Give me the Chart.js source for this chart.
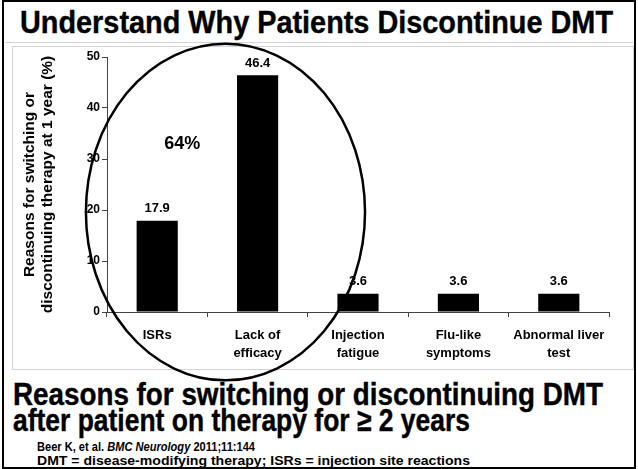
<!DOCTYPE html>
<html>
<head>
<meta charset="utf-8">
<script src="https://cdn.jsdelivr.net/npm/chart.js@4/dist/chart.umd.min.js"></script>
<style>
  body { margin: 0; width: 638px; height: 469px; background: #fff; position: relative; overflow: hidden;
         font-family: "Liberation Sans", Arial, sans-serif; }
  .frame { position: absolute; left: 2px; top: 0; width: 630px; height: 465px; border: 2px solid #000; }
  .hline { position: absolute; left: 5px; top: 42px; width: 628px; height: 1px; background: #d4d4d4; }
  .box { position: absolute; left: 12px; top: 46px; width: 620px; height: 322px; border: 1px solid #d4d4d4; }
  .txt { position: absolute; white-space: nowrap; font-weight: bold; color: #000; transform-origin: 0 0; }
  .big { font-size: 32px; line-height: 32px; -webkit-text-stroke: 0.4px #000; }
  .small { font-size: 12px; line-height: 12px; }
  #c { position: absolute; left: 0; top: 0; }
</style>
</head>
<body>
<div class="frame"></div>
<div class="hline"></div>
<div class="box"></div>
<div class="txt big fit" data-w="593" style="left:20px; top:6px;">Understand Why Patients Discontinue DMT</div>
<div class="txt big fit" data-w="590" style="left:13px; top:378px;">Reasons for switching or discontinuing DMT</div>
<div class="txt big fit" data-w="457" style="left:13px; top:404px;">after patient on therapy for ≥ 2 years</div>
<div class="txt small fit" data-w="218" style="left:37px; top:441px;">Beer K, et al. <i>BMC Neurology</i> 2011;11:144</div>
<div class="txt small fit" data-w="433" style="left:37px; top:455px;">DMT = disease-modifying therapy; ISRs = injection site reactions</div>
<canvas id="c" width="638" height="469"></canvas>
<script>
// chart data
var categorias = [["ISRs"], ["Lack of", "efficacy"], ["Injection", "fatigue"], ["Flu-like", "symptoms"], ["Abnormal liver", "test"]];
var valores = [17.9, 46.4, 3.6, 3.6, 3.6];
var etiquetas = ["17.9", "46.4", "3.6", "3.6", "3.6"];
var tituloY = ["Reasons for switching or", "discontinuing therapy at 1 year (%)"];

// annotation: ellipse around first two bars and the "64%" note (data units)
var elipse = { x: 0.68, y: 19.6, rx: 1.39, ry: 33 };
var nota = { texto: "64%", x: 0.25, y: 33 };

// squeeze text lines to their width in the picture
document.querySelectorAll(".fit").forEach(function(el){
    var w = el.getBoundingClientRect().width;
    el.style.transform = "scaleX(" + (parseFloat(el.dataset.w) / w) + ")";
});

Chart.defaults.font.family = '"Liberation Sans", Arial, sans-serif';
Chart.defaults.color = "#000";

var extras = {
    id: "extras",
    afterDatasetsDraw: function(chart) {
        var ctx = chart.ctx;
        var xs = chart.scales.x, ys = chart.scales.y;
        var meta = chart.getDatasetMeta(0);
        ctx.save();
        // value labels
        ctx.font = "bold 13px " + Chart.defaults.font.family;
        ctx.textAlign = "center";
        ctx.textBaseline = "middle";
        ctx.fillStyle = "#000";
        meta.data.forEach(function(bar, i){
            ctx.fillText(etiquetas[i], bar.x, bar.y - 12);
        });
        // note
        ctx.font = "bold 18px " + Chart.defaults.font.family;
        ctx.fillText(nota.texto, xs.getPixelForValue(nota.x), ys.getPixelForValue(nota.y));
        // ellipse
        var paso = xs.getPixelForValue(1) - xs.getPixelForValue(0);
        var cx = xs.getPixelForValue(elipse.x);
        var cy = ys.getPixelForValue(elipse.y);
        var rx = elipse.rx * paso;
        var ry = ys.getPixelForValue(0) - ys.getPixelForValue(elipse.ry);
        ctx.beginPath();
        ctx.ellipse(cx, cy, rx, ry, 0, 0, Math.PI * 2);
        ctx.lineWidth = 2.5;
        ctx.strokeStyle = "#000";
        ctx.stroke();
        ctx.restore();
    }
};

new Chart(document.getElementById("c"), {
    type: "bar",
    data: {
        labels: categorias,
        datasets: [{
            data: valores,
            backgroundColor: "#000",
            barPercentage: 0.41,
            categoryPercentage: 1
        }]
    },
    options: {
        responsive: false,
        animation: false,
        events: [],
        layout: { padding: { left: 12, top: 57, right: 29, bottom: 0 } },
        plugins: { legend: { display: false }, tooltip: { enabled: false } },
        scales: {
            x: {
                afterFit: function(s){ s.height = 157; },
                grid: { drawOnChartArea: false, tickLength: 5, color: "#444", offset: true },
                border: { color: "#444" },
                ticks: { font: { weight: "bold", size: 13, lineHeight: 1.4 }, padding: 9, maxRotation: 0, autoSkip: false }
            },
            y: {
                min: 0,
                max: 50,
                afterFit: function(s){ s.width = 95; },
                grid: { drawOnChartArea: false, tickLength: 5, color: "#444" },
                border: { color: "#444" },
                ticks: { stepSize: 10, font: { weight: "bold", size: 12 }, padding: 2 },
                title: {
                    display: true,
                    text: tituloY,
                    font: { weight: "bold", size: 15.5, lineHeight: 1.16 },
                    padding: { top: 9, bottom: 0 }
                }
            }
        }
    },
    plugins: [extras]
});
</script>
</body>
</html>
